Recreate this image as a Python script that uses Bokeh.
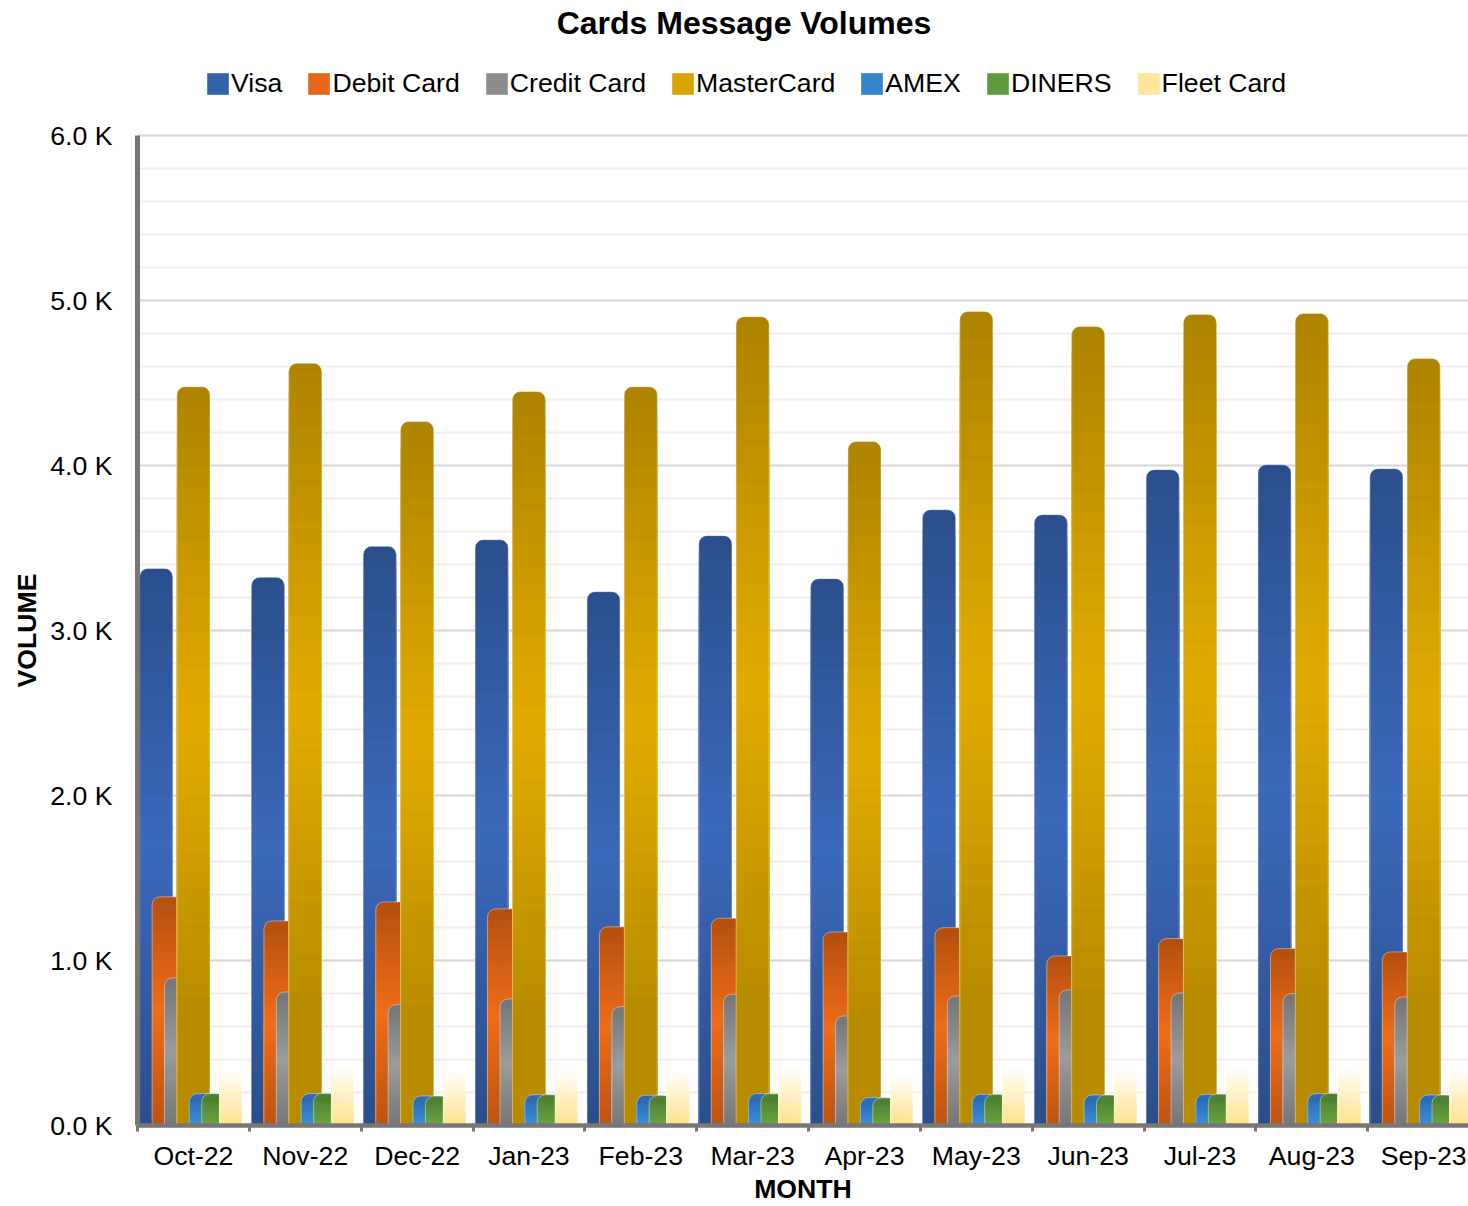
import numpy as np
from bokeh.plotting import figure
from bokeh.models import (ColumnDataSource, Range1d, FixedTicker, SingleIntervalTicker,
                          CustomJSTickFormatter, Legend, LegendItem, Label, Title)
from bokeh.embed import file_html
from bokeh.resources import INLINE

# ---------------- data ----------------
months = ["Oct-22", "Nov-22", "Dec-22", "Jan-23", "Feb-23", "Mar-23",
          "Apr-23", "May-23", "Jun-23", "Jul-23", "Aug-23", "Sep-23"]
series_names = ["Visa", "Debit Card", "Credit Card", "MasterCard", "AMEX", "DINERS", "Fleet Card"]

visa = [3376, 3322, 3510, 3550, 3235, 3575, 3314, 3732, 3702, 3975, 4005, 3981]
debit_card = [1386, 1240, 1355, 1313, 1204, 1256, 1173, 1199, 1028, 1133, 1072, 1052]
credit_card = [894, 809, 733, 767, 720, 796, 664, 785, 822, 803, 799, 779]
mastercard = [4478, 4619, 4266, 4448, 4478, 4902, 4145, 4933, 4842, 4915, 4921, 4648]
amex = [193, 193, 179, 187, 183, 193, 169, 189, 185, 189, 193, 185]
diners = [193, 194, 178, 186, 181, 192, 167, 188, 184, 190, 194, 184]
fleet_card = [326, 341, 320, 330, 320, 344, 294, 341, 330, 341, 341, 330]

y_max = 6000

# ---------------- styles ----------------
FONT = "Liberation Sans"
FS = "26.67px"
AXC = "#787575"
W, H = 1468, 1206
ML, MB = 137, 81
FRAME_W = W - ML
FRAME_H = H - MB              # frame runs from the top of the canvas to the x axis
PLOT_PX = 990                 # pixels used by 0 .. 6000
Y_END = y_max * FRAME_H / PLOT_PX
CAT_PX = 111.84
X_END = FRAME_W / CAT_PX
R_PX = 8
UNITS_PER_PX = y_max / PLOT_PX
R_U = R_PX * UNITS_PER_PX
N_SLICES = 40

styles = {
    "Visa": dict(stops=[(0, "#2b4e8c"), (0.5, "#3b69bb"), (1, "#2b4e8c")], legend="#3262aa", width=0.295),
    "Debit Card": dict(stops=[(0, "#b34f0f"), (0.5, "#ef6d17"), (1, "#bd5211")], legend="#e8661a", width=0.295),
    "Credit Card": dict(stops=[(0, "#757575"), (0.5, "#9b9b9b"), (1, "#767676")], legend="#8c8c8c", width=0.295),
    "MasterCard": dict(stops=[(0, "#ad8300"), (0.45, "#e2ab00"), (0.85, "#b88b00"), (1, "#b88b00")], legend="#d9a300", width=0.295),
    "AMEX": dict(stops=[(0, "#2a67ad"), (1, "#3a90d8")], legend="#3484cc", width=0.295),
    "DINERS": dict(stops=[(0, "#4b7a30"), (1, "#6aa544")], legend="#5e9b3c", width=0.295),
    "Fleet Card": dict(stops=[(0, "#fffdf7"), (1, "#ffe18c")], legend="#ffe699", width=0.20),
}
values = [visa, debit_card, credit_card, mastercard, amex, diners, fleet_card]


def hex2rgb(h):
    h = h.lstrip("#")
    return np.array([int(h[i:i + 2], 16) for i in (0, 2, 4)], float)


def grad(stops, t):
    t = float(min(max(t, 0.0), 1.0))
    for (t0, c0), (t1, c1) in zip(stops[:-1], stops[1:]):
        if t0 <= t <= t1:
            f = 0 if t1 == t0 else (t - t0) / (t1 - t0)
            c = hex2rgb(c0) * (1 - f) + hex2rgb(c1) * f
            return "#%02x%02x%02x" % tuple(int(round(x)) for x in c)
    return stops[-1][1]


p = figure(width=W, height=H, x_range=Range1d(0, X_END), y_range=Range1d(0, Y_END),
           output_backend="svg", toolbar_location=None, title=None,
           min_border_left=ML, min_border_top=0, min_border_bottom=MB, min_border_right=0)
p.outline_line_color = None
p.background_fill_color = "white"
p.border_fill_color = "white"

# ---------------- axes ----------------
xa = p.xaxis[0]
xa.ticker = FixedTicker(ticks=[i + 0.5 for i in range(len(months))],
                        minor_ticks=list(range(len(months) + 1)))
xa.formatter = CustomJSTickFormatter(args=dict(months=months),
                                     code="return months[Math.floor(tick)] || ''")
xa.major_tick_line_color = None
xa.major_tick_out = 0
xa.major_tick_in = 0
xa.minor_tick_out = 6
xa.minor_tick_in = 0
xa.minor_tick_line_width = 3
xa.minor_tick_line_color = AXC
xa.axis_line_width = 4.5
xa.axis_line_color = AXC
xa.major_label_text_font = FONT
xa.major_label_text_font_size = FS
xa.major_label_text_color = "#000000"
xa.major_label_standoff = 9
xa.axis_label = "MONTH"
xa.axis_label_text_font = FONT
xa.axis_label_text_font_style = "bold"
xa.axis_label_text_font_size = FS
xa.axis_label_text_color = "#000000"
xa.axis_label_standoff = 0

ya = p.yaxis[0]
ya.ticker = SingleIntervalTicker(interval=1000, num_minor_ticks=5)
ya.formatter = CustomJSTickFormatter(code="return (tick/1000).toFixed(1) + ' K'")
ya.bounds = (0, y_max)
ya.major_tick_line_color = None
ya.minor_tick_line_color = None
ya.major_tick_out = 0
ya.major_tick_in = 0
ya.axis_line_width = 5
ya.axis_line_color = AXC
ya.major_label_text_font = FONT
ya.major_label_text_font_size = FS
ya.major_label_text_color = "#000000"
ya.major_label_standoff = 21

ylab = Title(text="VOLUME", align="left", offset=FRAME_H - 687, standoff=12,
             text_font=FONT, text_font_style="bold", text_font_size=FS, text_color="#000000")
p.add_layout(ylab, "left")

p.xgrid.visible = False
p.ygrid.ticker = ya.ticker
p.ygrid.bounds = (0, y_max)
p.ygrid.grid_line_color = "#d9d9d9"
p.ygrid.grid_line_width = 2
p.ygrid.minor_grid_line_color = "#efefef"
p.ygrid.minor_grid_line_width = 2

# ---------------- bars ----------------
n_series = len(series_names)
legend_items = []
for s, (name, vals) in enumerate(zip(series_names, values)):
    st = styles[name]
    offset = (s - (n_series - 1) / 2) / 9.0
    xs = np.arange(len(months)) + 0.5 + offset
    v = np.array(vals, float)
    base_t = np.minimum(1.0, R_U / v) / 2
    base_src = ColumnDataSource(dict(x=xs, top=v, color=[grad(st["stops"], t) for t in base_t]))
    p.vbar(x="x", top="top", bottom=0, width=st["width"], source=base_src,
           fill_color="color", line_color=None, border_radius=(R_PX, R_PX, 0, 0))

    sx, stp, sc = [], [], []
    for i in range(len(months)):
        cap = v[i] - R_U
        for k in range(N_SLICES):
            top_k = cap * (1 - k / N_SLICES)
            y_mid = cap * (1 - (k + 0.5) / N_SLICES)
            sx.append(xs[i])
            stp.append(top_k)
            sc.append(grad(st["stops"], 1 - y_mid / v[i]))
    slice_src = ColumnDataSource(dict(x=sx, top=stp, color=sc))
    p.vbar(x="x", top="top", bottom=0, width=st["width"], source=slice_src,
           fill_color="color", line_color=None)

    p.vbar(x="x", top="top", bottom=0, width=st["width"], source=base_src,
           fill_color=None, line_color="white", line_alpha=0.4, line_width=1,
           border_radius=(R_PX, R_PX, 0, 0))

    # zero-height proxy bar used only for the legend swatch
    lr = p.vbar(x=xs[:1], top=[0], bottom=[0], width=0.1, fill_color=st["legend"], line_color=None)
    legend_items.append(LegendItem(label=name, renderers=[lr]))

legend = Legend(items=legend_items, orientation="horizontal",
                location=(67, FRAME_H - 98.5),
                glyph_width=27, glyph_height=27, label_standoff=0, spacing=23,
                padding=0, margin=0, border_line_color=None, background_fill_alpha=0,
                label_text_font=FONT, label_text_font_size=FS, label_text_color="#000000")
p.add_layout(legend, "center")

title = Label(x=743.5 - ML, y=FRAME_H - 22, x_units="screen", y_units="screen",
              text="Cards Message Volumes", text_align="center", text_baseline="alphabetic",
              text_font=FONT, text_font_style="bold", text_font_size="32px", text_color="#000000")
p.add_layout(title, "center")

open("out.html", "w").write(file_html(p, INLINE))
